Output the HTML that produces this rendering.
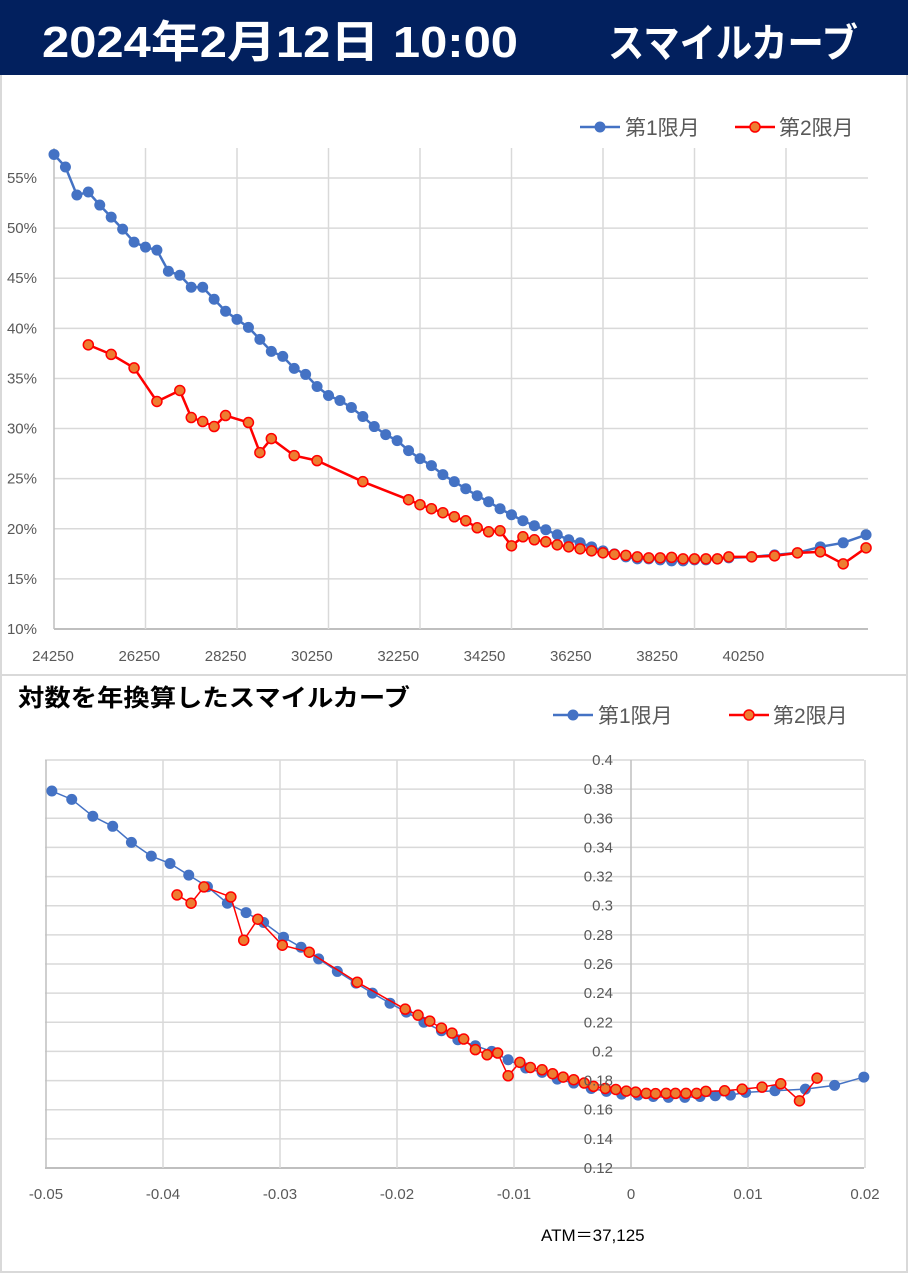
<!DOCTYPE html>
<html><head><meta charset="utf-8">
<style>
html,body{margin:0;padding:0;background:#fff;}
body{width:908px;height:1275px;position:relative;overflow:hidden;font-family:"Liberation Sans","Noto Sans CJK JP",sans-serif;}
#hdr{position:absolute;left:0;top:0;width:908px;height:75px;background:#02205e;}
#frame{position:absolute;left:0;top:75px;width:904px;height:1196px;border:2px solid #d9d9d9;border-top:none;}
svg{position:absolute;left:0;top:0;}
</style></head><body>
<div id="hdr"></div>
<div id="frame"></div>
<svg id="s" width="908" height="1275">
<text x="42" y="57" font-size="44" font-weight="bold" fill="#fff" textLength="476" lengthAdjust="spacingAndGlyphs">2024年2月12日 10:00</text>
<text x="608" y="57" font-size="40" font-weight="bold" fill="#fff" textLength="250" lengthAdjust="spacingAndGlyphs">スマイルカーブ</text>
</svg>
<script>
// ---- top chart data ----
const topStrikes1 = [24250,24500,24750,25000,25250,25500,25750,26000,26250,26500,26750,27000,27250,27500,27750,28000,28250,28500,28750,29000,29250,29500,29750,30000,30250,30500,30750,31000,31250,31500,31750,32000,32250,32500,32750,33000,33250,33500,33750,34000,34250,34500,34750,35000,35250,35500,35750,36000,36250,36500,36750,37000,37250,37500,37750,38000,38250,38500,38750,39000,39500,40000,40500,41000,41500,42000];
const topIV1 = [57.35,56.1,53.3,53.6,52.3,51.1,49.9,48.6,48.1,47.8,45.7,45.3,44.1,44.1,42.9,41.7,40.9,40.1,38.9,37.7,37.2,36.0,35.4,34.2,33.3,32.8,32.1,31.2,30.2,29.4,28.8,27.8,27.0,26.3,25.4,24.7,24.0,23.3,22.7,22.0,21.4,20.8,20.3,19.9,19.4,18.9,18.6,18.2,17.8,17.5,17.2,17.0,17.0,16.9,16.8,16.8,16.9,16.9,17.0,17.1,17.2,17.4,17.6,18.2,18.6,19.4];
const topStrikes2 = [25000,25500,26000,26500,27000,27250,27500,27750,28000,28500,28750,29000,29500,30000,31000,32000,32250,32500,32750,33000,33250,33500,33750,34000,34250,34500,34750,35000,35250,35500,35750,36000,36250,36500,36750,37000,37250,37500,37750,38000,38250,38500,38750,39000,39500,40000,40500,41000,41500,42000];
const topIV2 = [38.35,37.4,36.05,32.7,33.8,31.1,30.7,30.2,31.3,30.6,27.6,29.0,27.3,26.8,24.7,22.9,22.4,22.0,21.6,21.2,20.8,20.1,19.7,19.8,18.3,19.2,18.9,18.7,18.4,18.2,18.0,17.8,17.6,17.45,17.35,17.2,17.1,17.1,17.15,17.0,17.0,17.0,17.0,17.2,17.2,17.3,17.6,17.7,16.5,18.1];
const topXTicks = [24250,26250,28250,30250,32250,34250,36250,38250,40250];
const topYTicks = [10,15,20,25,30,35,40,45,50,55];
// ---- bottom chart data ----
const botX1 = [-0.0495,-0.0478,-0.046,-0.0443,-0.0427,-0.041,-0.0394,-0.0378,-0.0362,-0.0345,-0.0329,-0.0314,-0.0297,-0.0282,-0.0267,-0.0251,-0.0235,-0.0221,-0.0206,-0.0192,-0.0177,-0.0162,-0.0148,-0.0133,-0.0119,-0.0105,-0.009,-0.0076,-0.0063,-0.0049,-0.0034,-0.0021,-0.0008,0.0006,0.0019,0.0032,0.0046,0.0059,0.0072,0.0085,0.0098,0.0123,0.0149,0.0174,0.0199];
const botY1 = [0.3787,0.373,0.3614,0.3545,0.3435,0.334,0.329,0.321,0.313,0.3017,0.2953,0.2885,0.2784,0.2715,0.2635,0.2549,0.2469,0.24,0.2331,0.227,0.22,0.2142,0.208,0.2039,0.2,0.1943,0.1886,0.1856,0.181,0.1783,0.1746,0.1726,0.1707,0.17,0.1691,0.1685,0.1685,0.1691,0.1696,0.17,0.1719,0.173,0.1741,0.1767,0.1824];
const botX2 = [-0.0388,-0.0376,-0.0365,-0.0342,-0.0331,-0.0319,-0.0298,-0.0275,-0.0234,-0.0193,-0.0182,-0.0172,-0.0162,-0.0153,-0.0143,-0.0133,-0.0123,-0.0114,-0.0105,-0.0095,-0.0086,-0.0076,-0.0067,-0.0058,-0.0049,-0.004,-0.0032,-0.0022,-0.0013,-0.0004,0.0004,0.0013,0.0021,0.003,0.0038,0.0047,0.0056,0.0064,0.008,0.0095,0.0112,0.0128,0.0144,0.0159];
const botY2 = [0.3074,0.3017,0.3129,0.306,0.2763,0.2907,0.2729,0.2681,0.2475,0.229,0.2249,0.2208,0.216,0.2126,0.2085,0.2012,0.1977,0.1989,0.1833,0.1925,0.189,0.1874,0.1847,0.1824,0.1806,0.1783,0.176,0.1746,0.1739,0.1728,0.1721,0.1712,0.171,0.1712,0.1712,0.1712,0.1712,0.1726,0.173,0.1741,0.1755,0.1778,0.1661,0.1817];
const botXTicks = [-0.05,-0.04,-0.03,-0.02,-0.01,0,0.01,0.02];
const botYTicks = [0.12,0.14,0.16,0.18,0.2,0.22,0.24,0.26,0.28,0.3,0.32,0.34,0.36,0.38,0.4];

const NS='http://www.w3.org/2000/svg';
const svg=document.getElementById('s');
function mk(tag,attrs,parent){const e=document.createElementNS(NS,tag);for(const k in attrs)e.setAttribute(k,attrs[k]);(parent||svg).appendChild(e);return e;}
const BLUE='#4472c4', RED='#ff0000', ORANGE='#ed7d31', GRID='#d9d9d9', TXT='#595959';

let dv=mk('line',{x1:0,x2:908,y1:675,y2:675,stroke:GRID,'stroke-width':2});



// ===== top chart =====
const tx=v=>54+(v-24250)*(786-54)/16000;
const ty=v=>629-(v-10)*(629-178)/45;
const tLabelX=i=>53+i*86.3;
topYTicks.forEach(t=>{
  let l=mk('line',{x1:54,x2:868,y1:ty(t),y2:ty(t),stroke:t===10?'#bfbfbf':GRID,'stroke-width':t===10?2:1.5});
  
  
  let tt=mk('text',{x:37,y:ty(t)+5,'text-anchor':'end','font-size':15,fill:TXT});
  tt.textContent=t+'%';
  
  
});
topXTicks.forEach((t,i)=>{
  let l=mk('line',{x1:tx(t),x2:tx(t),y1:148,y2:629,stroke:t===24250?'#bfbfbf':GRID,'stroke-width':1.5});
  
  
  let tt=mk('text',{x:tLabelX(i),y:661,'text-anchor':'middle','font-size':15,fill:TXT});
  tt.textContent=t;
  
  
});
function series(xs,ys,fx,fy,color,fill,stroke,lw,r,name){
  let p=mk('polyline',{points:xs.map((x,i)=>fx(x)+','+fy(ys[i])).join(' '),fill:'none',stroke:color,'stroke-width':lw});
  
  
  xs.forEach((x,i)=>{
    let c=mk('circle',{cx:fx(x),cy:fy(ys[i]),r:r,fill:fill,stroke:stroke,'stroke-width':stroke==='none'?0:1.5});
    
    
  });
}
series(topStrikes1,topIV1,tx,ty,BLUE,BLUE,'none',2.5,5.5,'top-month1');
series(topStrikes2,topIV2,tx,ty,RED,ORANGE,RED,2.5,5,'top-month2');

function legend(y,x1,x2,prefix){
  let l1=mk('line',{x1:x1,x2:x1+40,y1:y,y2:y,stroke:BLUE,'stroke-width':2.5});
  
  
  let c1=mk('circle',{cx:x1+20,cy:y,r:5.5,fill:BLUE});
  
  
  let t1=mk('text',{x:x1+45,y:y+8,'font-size':21,fill:TXT});
  t1.textContent='第1限月';
  
  
  let l2=mk('line',{x1:x2,x2:x2+40,y1:y,y2:y,stroke:RED,'stroke-width':2.5});
  
  
  let c2=mk('circle',{cx:x2+20,cy:y,r:5,fill:ORANGE,stroke:RED,'stroke-width':1.5});
  
  
  let t2=mk('text',{x:x2+44,y:y+8,'font-size':21,fill:TXT});
  t2.textContent='第2限月';
  
  
}
legend(127,580,735,'top');

// ===== bottom chart =====
let bt=mk('text',{x:18,y:706,'font-size':24,'font-weight':'bold',fill:'#000',textLength:392,lengthAdjust:'spacingAndGlyphs'});
bt.textContent='対数を年換算したスマイルカーブ';


legend(715,553,729,'bottom');
const bx=v=>631+v*(864-45)/0.07;
const by=v=>1168-(v-0.12)*(1168-760)/0.28;
botYTicks.forEach(t=>{
  let l=mk('line',{x1:45,x2:864,y1:by(t),y2:by(t),stroke:t===0.12?'#bfbfbf':GRID,'stroke-width':t===0.12?2:1.5});
  
  
});
botXTicks.forEach(t=>{
  let l=mk('line',{x1:bx(t),x2:bx(t),y1:760,y2:1168,stroke:(t===0||t===-0.05)?'#bfbfbf':GRID,'stroke-width':1.5});
  
  
  let tt=mk('text',{x:bx(t),y:1199,'text-anchor':'middle','font-size':15,fill:TXT});
  tt.textContent=String(t);
  
  
});
series(botX1,botY1,bx,by,BLUE,BLUE,'none',1.5,5.5,'bottom-month1');
series(botX2,botY2,bx,by,RED,ORANGE,RED,1.5,5,'bottom-month2');
botYTicks.forEach(t=>{
  let tt=mk('text',{x:613,y:by(t)+5,'text-anchor':'end','font-size':15,fill:TXT});
  tt.textContent=String(t);
  
  
});
let atm=mk('text',{x:541,y:1241,'font-size':17,fill:'#000'});
atm.textContent='ATM＝37,125';


</script>
</body></html>
